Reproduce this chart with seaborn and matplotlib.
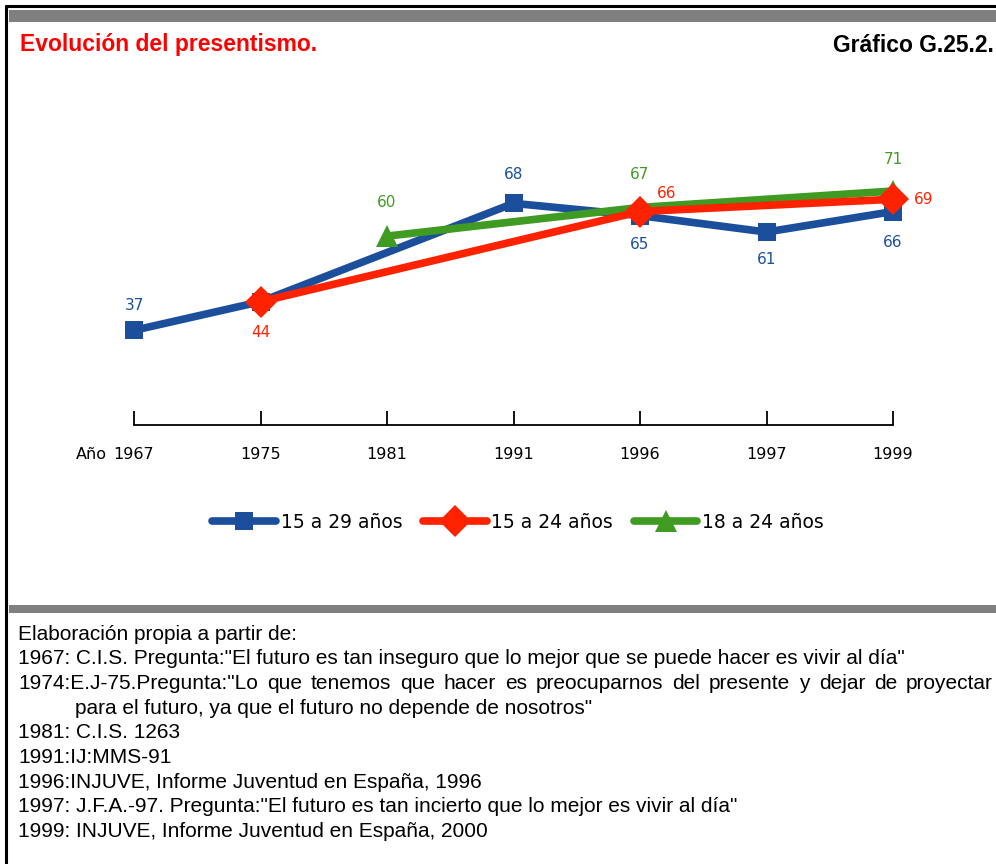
import numpy as np
import pandas as pd
import matplotlib
matplotlib.use("Agg")
import matplotlib.pyplot as plt
import seaborn as sns
from matplotlib.patches import Rectangle
from matplotlib.lines import Line2D
from matplotlib.transforms import ScaledTranslation

# data
years = ["1967", "1975", "1981", "1991", "1996", "1997", "1999"]
series = ["15 a 29 años", "15 a 24 años", "18 a 24 años"]
v_15_29 = [37, 44, np.nan, 68, 65, 61, 66]
v_15_24 = [np.nan, 44, np.nan, np.nan, 66, np.nan, 69]
v_18_24 = [np.nan, np.nan, 60, np.nan, 67, np.nan, 71]
colors = ["#1B4F9C", "#FF2200", "#3F9B22"]
markers = ["s", "D", "^"]

notes = [
    "Elaboración propia a partir de:",
    '1967: C.I.S. Pregunta:"El futuro es tan inseguro que lo mejor que se puede hacer es vivir al día"',
    '1974:E.J-75.Pregunta:"Lo que tenemos que hacer es preocuparnos del presente y dejar de proyectar',
    'para el futuro, ya que el futuro no depende de nosotros"',
    "1981: C.I.S. 1263",
    "1991:IJ:MMS-91",
    "1996:INJUVE, Informe Juventud en España, 1996",
    '1997: J.F.A.-97. Pregunta:"El futuro es tan incierto que lo mejor es vivir al día"',
    "1999: INJUVE, Informe Juventud en España, 2000",
]

values = [v_15_29, v_15_24, v_18_24]
df = pd.concat([
    pd.DataFrame({"pos": range(len(years)), "valor": v, "grupo": s})
    for s, v in zip(series, values)
]).dropna()

sns.set_style("white")
plt.rcParams["font.family"] = ["DejaVu Sans"]
plt.rcParams["text.color"] = "black"

W, H = 996, 864
fig = plt.figure(figsize=(W / 100, H / 100), dpi=100)

# frame and grey bars
fig.add_artist(Line2D([6 / W, 6 / W], [0, 1 - 6 / H], color="black", lw=2.2))
fig.add_artist(Line2D([6 / W, 1], [1 - 6 / H, 1 - 6 / H], color="black", lw=2.2))
fig.add_artist(Rectangle((9 / W, 1 - 22 / H), 1, 12 / H, color="#808080", lw=0))
fig.add_artist(Rectangle((9 / W, 1 - 613 / H), 1, 8 / H, color="#808080", lw=0))

fig.text(20 / W, 1 - 45 / H, "Evolución del presentismo.", color="#FF0000",
         fontsize=16.5, fontweight="bold", va="center", ha="left",
         family=["Liberation Sans", "DejaVu Sans"])
fig.text(994 / W, 1 - 45 / H, "Gráfico G.25.2.", color="black",
         fontsize=16.5, fontweight="bold", va="center", ha="right",
         family=["Liberation Sans", "DejaVu Sans"])

# axes: x ticks at 134..893 px, axis line at y=425 px
ax = fig.add_axes([134 / W, (H - 425) / H, (893 - 134) / W, (425 - 130) / H])
sns.lineplot(data=df, x="pos", y="valor", hue="grupo", style="grupo",
             hue_order=series, style_order=series,
             palette=dict(zip(series, colors)),
             markers=dict(zip(series, markers)), dashes=False,
             linewidth=5.5, markersize=13, markeredgewidth=0,
             legend=False, ax=ax)
for ln, z, ms in zip(ax.lines, [3, 5, 4], [13, 16, 16]):
    ln.set_clip_on(False)
    ln.set_zorder(z)
    ln.set_markersize(ms)

ax.set_xlim(0, len(years) - 1)
ax.set_ylim(13.9, 85.9)
ax.set_xticks(range(len(years)))
ax.set_xticklabels(years, fontsize=11.5)
ax.set_yticks([])
ax.set_xlabel("")
ax.set_ylabel("")
for s in ["top", "right", "left"]:
    ax.spines[s].set_visible(False)
ax.spines["bottom"].set_color("black")
ax.spines["bottom"].set_linewidth(1.3)
pad = 16
ax.tick_params(axis="x", direction="in", length=10, width=1.3, pad=pad,
               bottom=True, colors="black")
ano_tr = ax.get_xaxis_transform() + ScaledTranslation(0, -pad / 72, fig.dpi_scale_trans)
ax.text(-0.215, 0, "Año", transform=ano_tr, ha="right", va="top", fontsize=11.5)

# value labels (offsets in points)
offsets = {
    0: {0: (0, 18), 3: (0, 21), 4: (0, -21), 5: (0, -20), 6: (0, -22)},
    1: {1: (0, -22), 4: (19, 13), 6: (22, 0)},
    2: {2: (0, 24), 4: (0, 24), 6: (0, 23)},
}
for i, v in enumerate(values):
    for j, off in offsets[i].items():
        ax.annotate(f"{v[j]:.0f}", (j, v[j]), xytext=off,
                    textcoords="offset points", ha="center", va="center",
                    color=colors[i], fontsize=11, annotation_clip=False)

handles = [Line2D([], [], color=c, marker=m, lw=5.5, markersize=ms,
                  markeredgewidth=0)
           for c, m, ms in zip(colors, markers, [13, 16, 16])]
fig.legend(handles, series, loc="center", bbox_to_anchor=(518 / W, 1 - 522 / H),
           ncol=3, frameon=False, fontsize=13.5, handlelength=3.4,
           columnspacing=1.1, handletextpad=0.25)

# source notes
y0 = 634
note_font = dict(fontsize=15, va="center", ha="left",
                 family=["Liberation Sans", "DejaVu Sans"])
renderer = fig.canvas.get_renderer()
for k, line in enumerate(notes):
    x = 75 if k == 3 else 18
    y = 1 - (y0 + k * 24.7) / H
    if k != 2:
        fig.text(x / W, y, line, **note_font)
        continue
    # justified line: spread words up to the right edge
    words = line.split(" ")
    parts = [fig.text(0, y, w, **note_font) for w in words]
    widths = [p.get_window_extent(renderer).width for p in parts]
    gap = (993 - x - sum(widths)) / (len(words) - 1)
    cur = x
    for p, w in zip(parts, widths):
        p.set_x(cur / W)
        cur += w + gap

fig.savefig("out.png", dpi=100)
